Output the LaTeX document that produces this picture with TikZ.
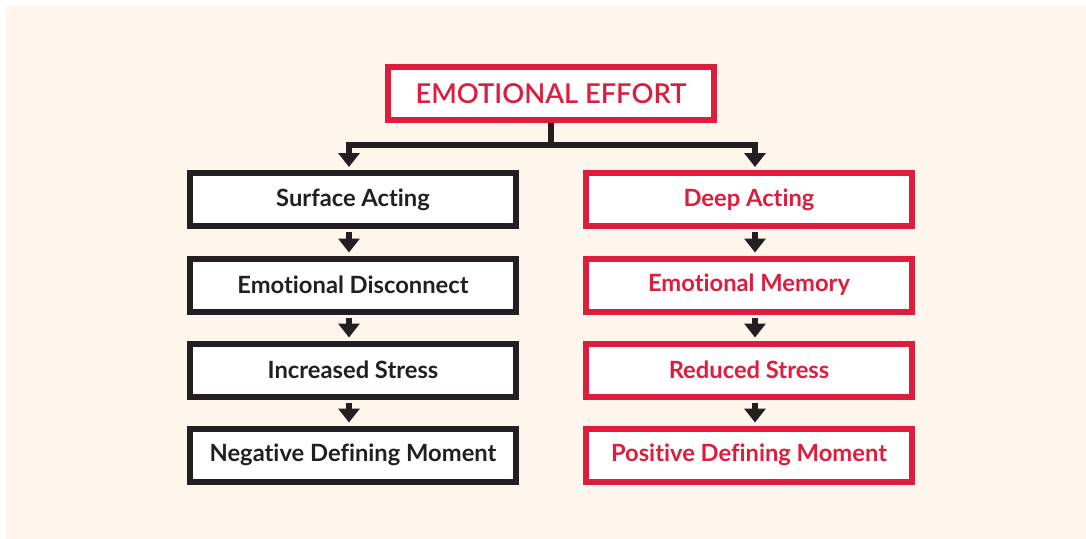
\documentclass[tikz,border=0pt]{standalone}
\usepackage{fontspec}
\setmainfont[Ligatures=NoCommon]{Lato}
\newfontfamily\latosemi[Ligatures=NoCommon]{Lato Semibold}
\usetikzlibrary{arrows.meta,positioning}

\definecolor{cream}{RGB}{254,246,236}
\definecolor{effred}{RGB}{220,30,60}
\definecolor{inkdark}{RGB}{35,31,32}

\tikzset{
  box/.style={draw=inkdark, fill=white, line width=4.5pt,
    minimum width=244.5pt, minimum height=39.75pt, inner sep=0pt,
    text=inkdark, font=\bfseries\fontsize{17.8}{20}\selectfont},
  redbox/.style={box, draw=effred, text=effred},
  flow/.style={draw=inkdark, line width=4.5pt,
    -{Triangle[width=15.75pt,length=10.5pt]}, shorten >=2.25pt},
  link/.style={flow, shorten <=2.25pt}
}

\begin{document}
\begin{tikzpicture}[x=0.75pt,y=-0.75pt]
  \useasboundingbox (0,0) rectangle (1086,539);
  \fill[cream] (6,6) rectangle (1086,539);

  % top
  \node[redbox, font=\latosemi\fontsize{20.5}{24}\selectfont] (effort) at (551,93.5) {EMOTIONAL EFFORT};

  % left column
  \node[box] (surface) at (353,199.5) {Surface Acting};
  \node[box] (disconnect) at (353,285) {Emotional Disconnect};
  \node[box] (stressup) at (353,370) {Increased Stress};
  \node[box] (negative) at (353,455) {Negative Defining Moment};

  % right column
  \node[redbox] (deep) at (749,199.5) {Deep Acting};
  \node[redbox] (memory) at (749,285) {Emotional Memory};
  \node[redbox] (stressdown) at (749,370) {Reduced Stress};
  \node[redbox] (positive) at (749,455) {Positive Defining Moment};

  % fork
  \coordinate (fork) at (551,145);
  \draw[draw=inkdark, line width=4.5pt] (effort.south) -- (fork);
  \draw[flow] (fork) -| ([xshift=-3pt]surface.north);
  \draw[flow] (fork) -| ([xshift=4.5pt]deep.north);

  % chains
  \draw[link] ([xshift=-3pt]surface.south) -- ([xshift=-3pt]disconnect.north);
  \draw[link] ([xshift=-3pt]disconnect.south) -- ([xshift=-3pt]stressup.north);
  \draw[link] ([xshift=-3pt]stressup.south) -- ([xshift=-3pt]negative.north);
  \draw[link] ([xshift=4.5pt]deep.south) -- ([xshift=4.5pt]memory.north);
  \draw[link] ([xshift=4.5pt]memory.south) -- ([xshift=4.5pt]stressdown.north);
  \draw[link] ([xshift=4.5pt]stressdown.south) -- ([xshift=4.5pt]positive.north);
\end{tikzpicture}
\end{document}
